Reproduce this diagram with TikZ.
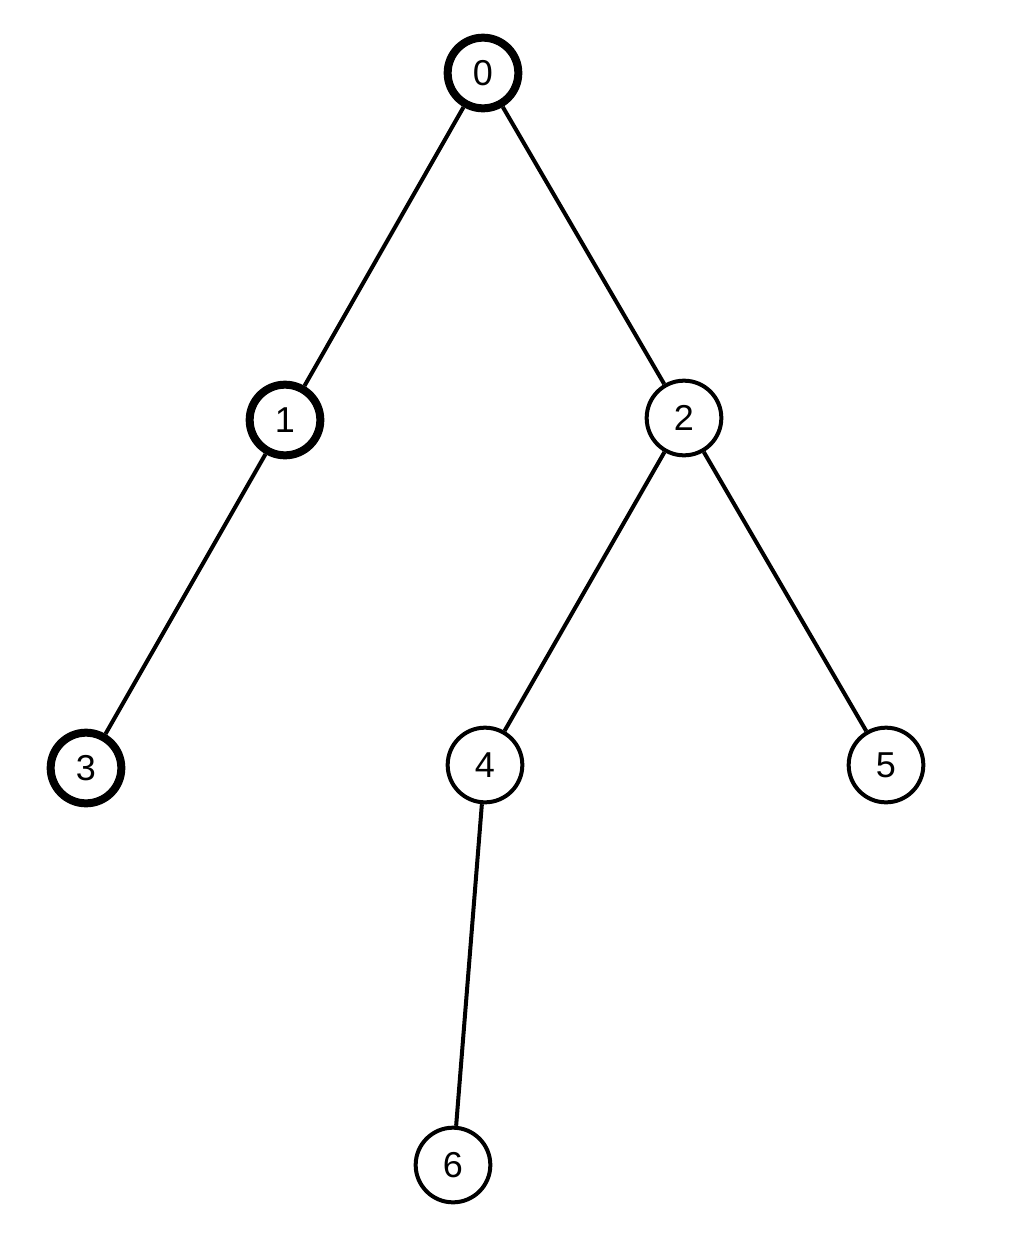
\documentclass[tikz,border=0pt]{standalone}
\usepackage{fontspec}
\setmainfont{Liberation Sans}
\begin{document}
\begin{tikzpicture}[x=0.75pt,y=-0.75pt,
  vtx/.style={circle,draw,line width=3pt,minimum size=56pt,inner sep=0pt,fill=white,font=\fontsize{27}{30}\selectfont},
  bold/.style={line width=6pt,minimum size=53pt},
  edge/.style={line width=3pt}]
\useasboundingbox (0,0) rectangle (1010,1246);
\node[vtx,bold] (n0) at (483,73) {0};
\node[vtx,bold] (n1) at (285,420) {1};
\node[vtx] (n2) at (684,418) {2};
\node[vtx,bold] (n3) at (86,768) {3};
\node[vtx] (n4) at (485,765) {4};
\node[vtx] (n5) at (886,765) {5};
\node[vtx] (n6) at (453,1165) {6};
\draw[edge] (n0) -- (n1);
\draw[edge] (n0) -- (n2);
\draw[edge] (n1) -- (n3);
\draw[edge] (n2) -- (n4);
\draw[edge] (n2) -- (n5);
\draw[edge] (n4) -- (n6);
\end{tikzpicture}
\end{document}
